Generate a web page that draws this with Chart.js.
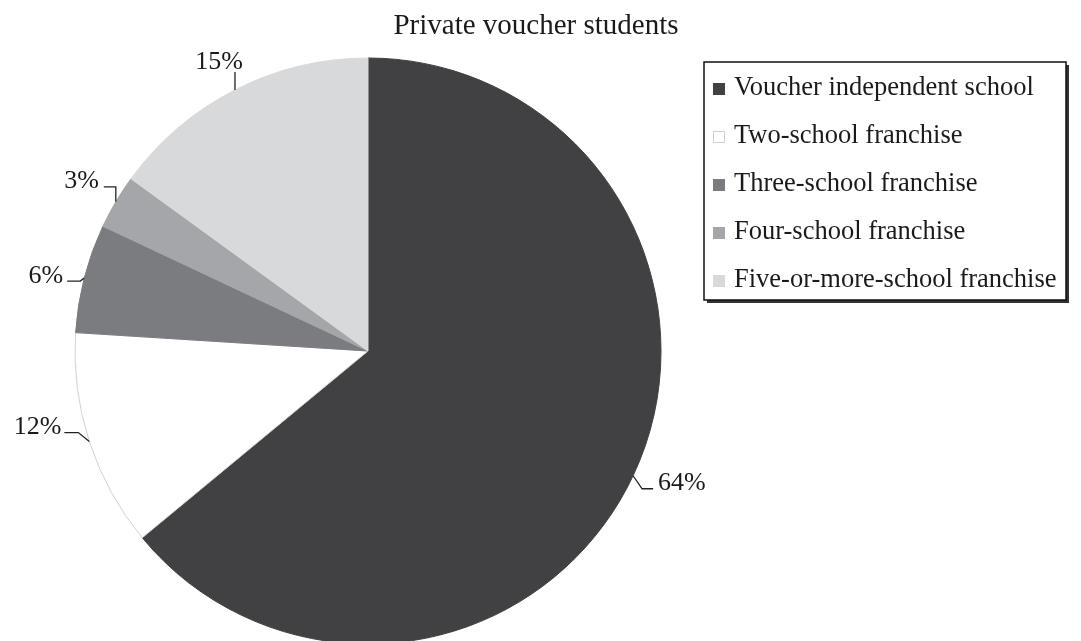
<!DOCTYPE html>
<html>
<head>
<meta charset="utf-8">
<script src="https://cdn.jsdelivr.net/npm/chart.js@4.4.0/dist/chart.umd.min.js"></script>
<style>
  html, body { margin: 0; padding: 0; background: #fff; overflow: hidden; }
  #wrap { position: relative; width: 1081px; height: 702px; }
</style>
</head>
<body>
<div id="wrap"><canvas id="pie" width="1081" height="702"></canvas></div>
<script>
const chartTitle = 'Private voucher students';
const categories = [
  'Voucher independent school',
  'Two-school franchise',
  'Three-school franchise',
  'Four-school franchise',
  'Five-or-more-school franchise'
];
const shares = [64, 12, 6, 3, 15];
const sliceColors = ['#414143', '#ffffff', '#7b7c80', '#a5a6aa', '#d8d9db'];
const edgeColors = ['#414143', '#d2d2d2', '#7b7c80', '#a5a6aa', '#d8d9db'];

const serif = '"Liberation Serif", "DejaVu Serif", serif';

// leader line shape per slice: elbow offset from the rim, horizontal run, text gap, baseline shift
const leaderStyle = [
  { ex: 9, ey: 13, run: 11, gap: 5, base: 1 },
  { ex: -11, ey: -9, run: -14, gap: -3, base: 1 },
  { ex: -4, ey: 3, run: -13, gap: -4, base: 2 },
  { ex: 0, ey: -15, run: -12, gap: -5, base: 1 },
  { ex: 0, ey: -18, run: 0, gap: -16, base: -3 }
];

const leaderLabels = {
  id: 'leaderLabels',
  afterDatasetsDraw(chart) {
    const ctx = chart.ctx;
    const arcs = chart.getDatasetMeta(0).data;
    ctx.save();
    ctx.font = '26px ' + serif;
    ctx.fillStyle = '#1a1a1a';
    ctx.strokeStyle = '#222';
    ctx.lineWidth = 1.3;
    ctx.textBaseline = 'alphabetic';
    arcs.forEach((arc, i) => {
      const st = leaderStyle[i];
      const mid = (arc.startAngle + arc.endAngle) / 2;
      const x0 = arc.x + Math.cos(mid) * arc.outerRadius;
      const y0 = arc.y + Math.sin(mid) * arc.outerRadius;
      const x1 = x0 + st.ex, y1 = y0 + st.ey;
      const x2 = x1 + st.run;
      ctx.beginPath();
      ctx.moveTo(x0, y0);
      ctx.lineTo(x1, y1);
      if (st.run !== 0) ctx.lineTo(x2, y1);
      ctx.stroke();
      const text = shares[i] + '%';
      if (st.run === 0) {
        ctx.textAlign = 'center';
      } else {
        ctx.textAlign = st.run > 0 ? 'left' : 'right';
      }
      ctx.fillText(text, x2 + st.gap, y1 + st.base);
    });
    ctx.restore();
  }
};

// title and boxed legend on the right
const sideBits = {
  id: 'sideBits',
  afterDraw(chart) {
    const ctx = chart.ctx;
    ctx.save();
    ctx.font = '29px ' + serif;
    ctx.fillStyle = '#1a1a1a';
    ctx.textAlign = 'center';
    ctx.textBaseline = 'alphabetic';
    ctx.fillText(chartTitle, 536, 34);

    const bx = 704, by = 62, bw = 362, bh = 238;
    ctx.fillStyle = '#333';
    ctx.fillRect(bx + 3, by + 3, bw, bh);
    ctx.fillStyle = '#fff';
    ctx.fillRect(bx, by, bw, bh);
    ctx.strokeStyle = '#111';
    ctx.lineWidth = 1.5;
    ctx.strokeRect(bx, by, bw, bh);

    ctx.font = '26.5px ' + serif;
    ctx.textAlign = 'left';
    ctx.textBaseline = 'middle';
    categories.forEach((name, i) => {
      const cy = 88 + i * 48;
      ctx.fillStyle = sliceColors[i];
      ctx.fillRect(713, cy - 5, 12, 12);
      if (i === 1) {
        ctx.strokeStyle = '#d0d0d0';
        ctx.lineWidth = 1;
        ctx.strokeRect(713.5, cy - 4.5, 11, 11);
      }
      ctx.fillStyle = '#1a1a1a';
      ctx.fillText(name, 734, cy);
    });
    ctx.restore();
  }
};

new Chart(document.getElementById('pie'), {
  type: 'pie',
  data: {
    labels: categories,
    datasets: [{
      data: shares,
      backgroundColor: sliceColors,
      borderColor: edgeColors,
      borderWidth: 1
    }]
  },
  options: {
    responsive: false,
    animation: false,
    radius: 293,
    layout: { padding: { left: 0, right: 345, top: 0, bottom: 0 } },
    plugins: {
      legend: { display: false },
      tooltip: { enabled: false }
    }
  },
  plugins: [leaderLabels, sideBits]
});
</script>
</body>
</html>
